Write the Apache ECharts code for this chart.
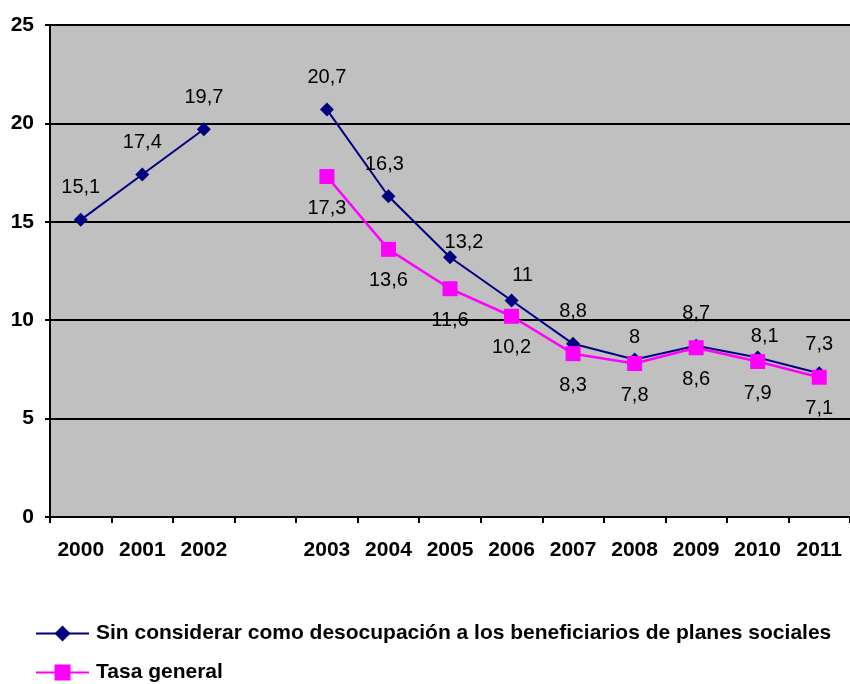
<!DOCTYPE html>
<html>
<head>
<meta charset="utf-8">
<script src="https://cdn.jsdelivr.net/npm/echarts@6/dist/echarts.min.js"></script>
<style>
html,body{margin:0;padding:0;background:#fff;}
#c{width:850px;height:684px;}
</style>
</head>
<body>
<div id="c"></div>
<script>
const categories = ['2000','2001','2002','','2003','2004','2005','2006','2007','2008','2009','2010','2011'];
const sinPlanes = [15.1, 17.4, 19.7, null, 20.7, 16.3, 13.2, 11, 8.8, 8, 8.7, 8.1, 7.3];
const tasaGeneral = [null, null, null, null, 17.3, 13.6, 11.6, 10.2, 8.3, 7.8, 8.6, 7.9, 7.1];
const seriesNames = ['Sin considerar como desocupación a los beneficiarios de planes sociales', 'Tasa general'];
const yTicks = [0, 5, 10, 15, 20, 25];

const FONT = '"Liberation Sans", Arial, sans-serif';
const fmt = p => String(p.value).replace('.', ',');

// label nudges (style, by category index)
const nudge1 = {5: [-4, 0], 6: [14, 17], 7: [11, 7], 9: [0, 10], 11: [7, 11], 12: [0, 3]};

function build(values, nudge) {
  return values.map((v, i) => {
    if (v === null) return null;
    const item = { value: v };
    if (nudge && nudge[i]) item.label = { offset: nudge[i] };
    return item;
  });
}

const legendBase = {
  orient: 'vertical', left: 35, padding: 0,
  itemWidth: 53, itemHeight: 20,
  textStyle: { fontFamily: FONT, fontWeight: 'bold', fontSize: 21, color: '#000', padding: [0, 0, 0, 2] }
};

const chart = echarts.init(document.getElementById('c'), null, { renderer: 'canvas' });
chart.setOption({
  animation: false,
  textStyle: { fontFamily: FONT },
  grid: { left: 50, right: 0, top: 25, bottom: 167, show: true, backgroundColor: '#C0C0C0', borderWidth: 0 },
  legend: [
    Object.assign({}, legendBase, { top: 623, data: [seriesNames[0]] }),
    Object.assign({}, legendBase, { top: 662, data: [seriesNames[1]] })
  ],
  xAxis: {
    type: 'category', data: categories, boundaryGap: true,
    axisLine: { lineStyle: { color: '#000', width: 2 } },
    axisTick: { show: true, interval: 0, length: 6, lineStyle: { color: '#000', width: 2 } },
    axisLabel: { interval: 0, margin: 23, color: '#000', fontWeight: 'bold', fontSize: 21, fontFamily: FONT },
    splitLine: { show: false }
  },
  yAxis: {
    type: 'value', min: yTicks[0], max: yTicks[yTicks.length - 1], interval: 5,
    axisLine: { show: true, lineStyle: { color: '#000', width: 2 } },
    axisTick: { show: true, length: 5, lineStyle: { color: '#000', width: 2 } },
    axisLabel: { margin: 16, color: '#000', fontWeight: 'bold', fontSize: 21, fontFamily: FONT },
    splitLine: { show: true, lineStyle: { color: '#000', width: 2 } }
  },
  series: [
    {
      name: seriesNames[0], type: 'line', data: build(sinPlanes, nudge1), connectNulls: false,
      symbol: 'diamond', symbolSize: 14, z: 2,
      lineStyle: { color: '#000080', width: 2 }, itemStyle: { color: '#000080' },
      label: { show: true, position: 'top', distance: 15, formatter: fmt, color: '#000', fontSize: 20, fontFamily: FONT }
    },
    {
      name: seriesNames[1], type: 'line', data: build(tasaGeneral, null), connectNulls: false,
      symbol: 'rect', symbolSize: 15, z: 3,
      lineStyle: { color: '#FF00FF', width: 2.5 }, itemStyle: { color: '#FF00FF' },
      label: { show: true, position: 'bottom', distance: 14, formatter: fmt, color: '#000', fontSize: 20, fontFamily: FONT }
    }
  ]
});
</script>
</body>
</html>
